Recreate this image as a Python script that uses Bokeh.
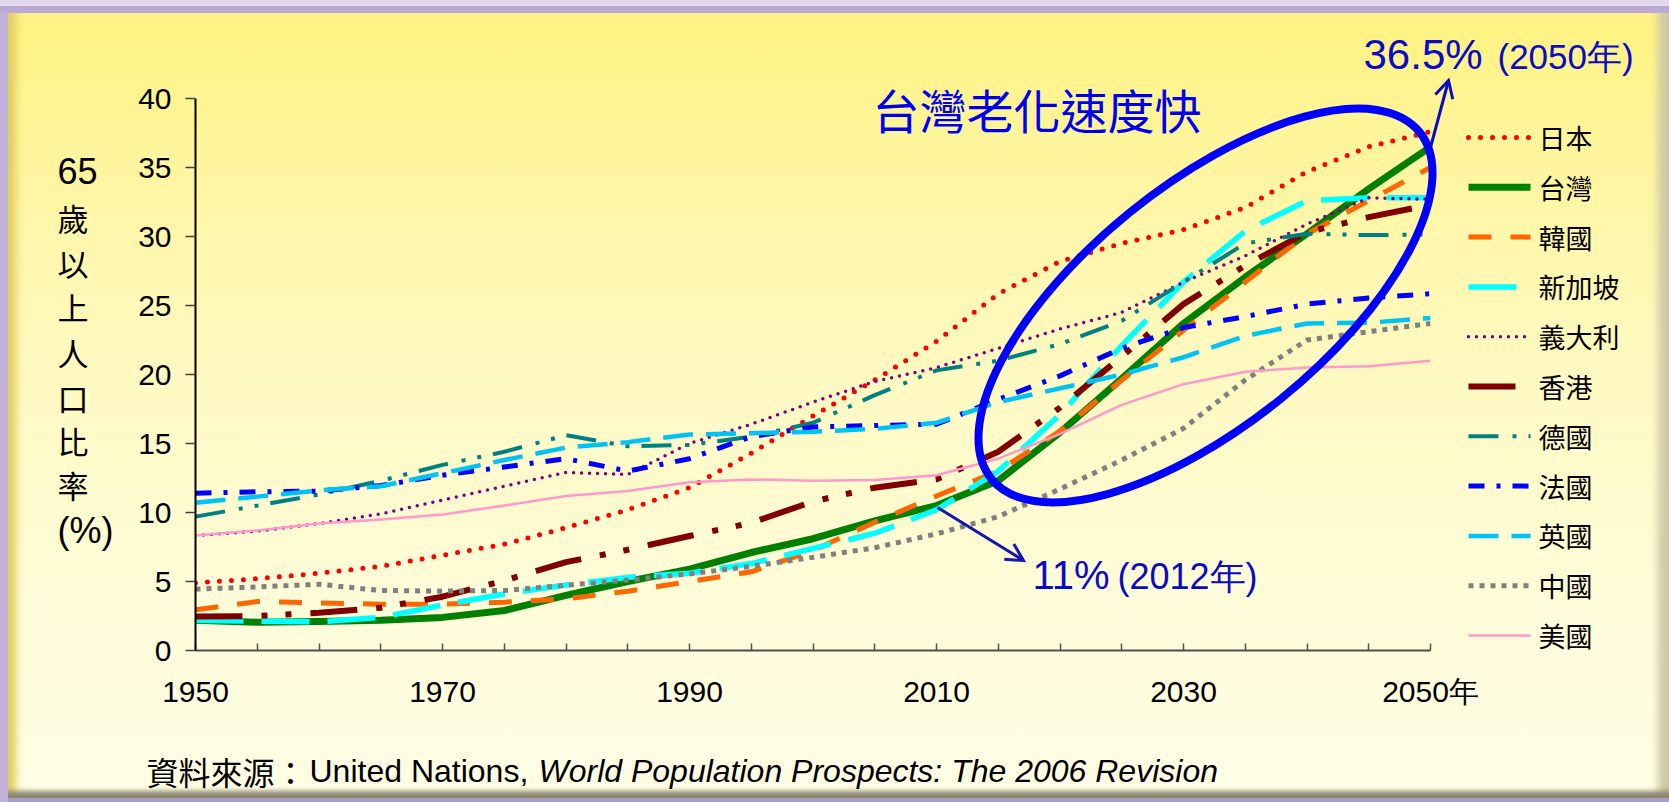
import math
from bokeh.plotting import figure
from bokeh.models import FixedTicker, Range1d
from bokeh.core.properties import value
from bokeh.embed import file_html
from bokeh.resources import INLINE

# ---------------- data ----------------
years = list(range(1950, 2051, 5))
japan     = [4.9, 5.2, 5.6, 6.1, 6.9, 7.7, 8.9, 10.2, 11.8, 14.3, 17.0, 19.6, 22.4, 25.85, 28.2, 29.5, 30.5, 32.1, 34.7, 36.5, 37.6]
taiwan    = [2.2, 2.05, 2.1, 2.2, 2.4, 2.9, 4.0, 5.0, 5.9, 7.1, 8.1, 9.4, 10.5, 12.3, 15.8, 19.7, 23.7, 27.05, 30.2, 33.45, 36.5]
korea     = [2.95, 3.55, 3.45, 3.35, 3.35, 3.5, 3.75, 4.3, 5.0, 5.7, 7.25, 9.3, 11.2, 13.0, 15.9, 19.6, 23.2, 26.7, 30.2, 32.6, 35.0]
singapore = [2.2, 2.13, 2.08, 2.4, 3.3, 4.1, 4.75, 5.3, 5.6, 6.3, 7.4, 8.5, 10.2, 13.0, 17.1, 22.1, 26.7, 30.4, 32.6, 32.8, 32.8]
italy     = [8.33, 8.65, 9.2, 9.9, 10.9, 11.9, 12.9, 12.75, 15.0, 16.4, 18.0, 19.5, 20.5, 21.9, 23.3, 24.5, 26.7, 28.6, 30.9, 32.8, 32.7]
hongkong  = [2.46, 2.5, 2.73, 3.1, 3.9, 5.07, 6.4, 7.3, 8.3, 9.25, 10.8, 11.8, 12.4, 14.4, 17.6, 21.3, 25.1, 27.9, 30.3, 31.4, 32.3]
germany   = [9.7, 10.5, 11.3, 12.3, 13.45, 14.4, 15.6, 14.8, 14.9, 15.5, 16.5, 18.5, 20.3, 21.0, 22.2, 23.9, 26.7, 29.5, 30.2, 30.1, 30.15]
france    = [11.4, 11.5, 11.55, 11.95, 12.7, 13.3, 13.9, 13.0, 13.9, 15.5, 16.2, 16.3, 16.4, 18.2, 19.9, 21.9, 23.4, 24.2, 25.1, 25.55, 25.85]
uk        = [10.7, 11.15, 11.6, 11.9, 12.85, 13.8, 14.7, 15.1, 15.65, 15.75, 15.85, 16.06, 16.5, 18.0, 19.0, 20.0, 21.25, 22.8, 23.7, 23.75, 24.1]
china     = [4.45, 4.6, 4.8, 4.35, 4.3, 4.35, 4.73, 5.1, 5.55, 6.1, 6.75, 7.45, 8.45, 9.7, 11.7, 13.8, 16.1, 19.6, 22.5, 23.1, 23.7]
usa       = [8.33, 8.7, 9.2, 9.5, 9.85, 10.5, 11.2, 11.55, 12.2, 12.4, 12.3, 12.35, 12.7, 13.9, 15.7, 17.8, 19.3, 20.2, 20.5, 20.6, 21.0]

names = ["日本", "台灣", "韓國", "新加坡", "義大利", "香港", "德國", "法國", "英國", "中國", "美國"]
x_tick_values = list(range(1950, 2051, 5))
x_tick_labels = {1950: "1950", 1970: "1970", 1990: "1990", 2010: "2010", 2030: "2030", 2050: "2050年"}
y_tick_values = list(range(0, 41, 5))
y_title_parts = ["65", "歲", "以", "上", "人", "口", "比", "率", "(%)"]

# ---------------- figure ----------------
W, H = 1669, 802
FONT = "Liberation Sans"
CJK = "Noto Sans CJK TC"

bg_styles = {
    "background": "linear-gradient(180deg, #FFF27C 0%, #FFF59C 18%, #FFF9C0 45%, #FFFCD9 75%, #FFFEE6 100%)",
    "box-shadow": ("inset 0 6px 0 0 #E2D9EE, "
                   "inset 0 13px 0 0 #BBA8D4, "
                   "inset 8px 0 0 0 #C2B1DA, "
                   "inset 0 -4px 0 0 #A89EC6, "
                   "inset 0 -15px 5px -4px #8C8770, "
                   "inset -19px 0 8px -8px #CFC8A8, "
                   "inset 24px 0 8px -8px #E2CE60, "
                   "inset 0 32px 10px -10px #FFF08A"),
}

p = figure(width=W, height=H, output_backend="svg", toolbar_location=None,
           x_range=Range1d(1950, 2050), y_range=Range1d(0, 40),
           min_border_left=195, min_border_right=239, min_border_top=98, min_border_bottom=152,
           background_fill_alpha=0, border_fill_alpha=0, outline_line_color=None,
           styles=bg_styles)
p.grid.visible = False

# axes
p.xaxis.ticker = FixedTicker(ticks=x_tick_values)
p.xaxis.major_label_overrides = {t: x_tick_labels.get(t, "") for t in x_tick_values}
p.xaxis.axis_line_color = "#505050"
p.xaxis.axis_line_width = 2
p.xaxis.major_tick_in = 7
p.xaxis.major_tick_out = 0
p.xaxis.major_tick_line_color = "#505050"
p.xaxis.major_tick_line_width = 1.5
p.xaxis.minor_tick_line_color = None
p.xaxis.major_label_standoff = 24
p.xaxis.major_label_text_font = FONT
p.xaxis.major_label_text_font_size = "30px"
p.xaxis.major_label_text_color = "black"

p.yaxis.ticker = FixedTicker(ticks=y_tick_values)
p.yaxis.axis_line_color = "black"
p.yaxis.axis_line_width = 2
p.yaxis.major_tick_in = 0
p.yaxis.major_tick_out = 10
p.yaxis.major_tick_line_color = "#404040"
p.yaxis.major_tick_line_width = 1.5
p.yaxis.minor_tick_line_color = None
p.yaxis.major_label_standoff = 14
p.yaxis.major_label_text_font = FONT
p.yaxis.major_label_text_font_size = "30px"
p.yaxis.major_label_text_color = "black"

# ---------------- helpers (page pixel -> data) ----------------
def dx(px):
    return 1950 + (px - 195) / 12.35

def dy(py):
    return (650 - py) / 13.8

def txt(px, py, s, font, size, color="black", align="left", style="normal"):
    p.text(x=[dx(px)], y=[dy(py)], text=[s], text_font=value(font), text_font_size=value(size),
           text_font_style=style, text_color=color, text_align=align, text_baseline="middle",
           level="overlay")

def arrow(sx0, sy0, sx1, sy1, color, lw, head_len=17, head_half=9):
    p.segment(x0=[dx(sx0)], y0=[dy(sy0)], x1=[dx(sx1)], y1=[dy(sy1)],
              line_color=color, line_width=lw, level="overlay")
    L = math.hypot(sx1 - sx0, sy1 - sy0)
    ux, uy = (sx1 - sx0) / L, (sy1 - sy0) / L
    nx, ny = -uy, ux
    bx, by = sx1 - head_len * ux, sy1 - head_len * uy
    p.line(x=[dx(bx + head_half * nx), dx(sx1), dx(bx - head_half * nx)],
           y=[dy(by + head_half * ny), dy(sy1), dy(by - head_half * ny)],
           line_color=color, line_width=lw, line_join="miter", level="overlay")

# ---------------- series lines + legend ----------------
line_styles = [
    (japan,     "#FF0000", 5,   "0 12",            "round"),
    (taiwan,    "#008000", 7,   "solid",           "butt"),
    (korea,     "#FF6600", 5,   "23 19",           "butt"),
    (singapore, "#00FFFF", 5.5, "48 18",           "butt"),
    (italy,     "#800080", 3.5, "0 8",             "round"),
    (hongkong,  "#800000", 6,   "47 19 6 18 6 19", "butt"),
    (germany,   "#008080", 4,   "30 14 4 12 4 12", "butt"),
    (france,    "#0000FF", 5,   "16 12 4 12",      "butt"),
    (uk,        "#00C3F5", 4.5, "30 13",           "butt"),
    (china,     "#808080", 5,   "5 6",             "butt"),
    (usa,       "#FF99CC", 2.5, "solid",           "butt"),
]
for i, (name, (vals, color, lw, dash, cap)) in enumerate(zip(names, line_styles)):
    p.line(years, vals, line_color=color, line_width=lw, line_dash=dash,
           line_cap=cap, line_join="round")
    cy = 137 + 49.8 * i
    p.line(x=[dx(1468), dx(1530)], y=[dy(cy), dy(cy)], line_color=color, line_width=lw,
           line_dash=dash, line_cap=cap, level="overlay")
    txt(1538, cy, name, CJK, "27px")

# ---------------- annotations ----------------
p.ellipse(x=[dx(1205)], y=[dy(305)], width=551, height=240, angle=math.radians(39),
          width_units="screen", height_units="screen",
          fill_color=None, line_color="#0000FF", line_width=8, level="overlay")

BLUE_T = "#0A0AC8"
txt(872, 108, "台灣老化速度快", CJK, "47px", color="#0000F0")
txt(1363, 54, "36.5%", FONT, "42px", color=BLUE_T)
txt(1497, 56, "(2050年)", FONT, "35px", color=BLUE_T)
txt(1032, 574, "11%", FONT, "40px", color=BLUE_T)
txt(1117, 576, "(2012年)", FONT, "36px", color=BLUE_T)

arrow(1430, 147, 1448, 80, BLUE_T, 3)
arrow(937, 507, 1023, 560, "#1515B0", 3)

y_centers = [170, 217, 262, 306, 352, 397, 440, 484, 530]
for part, cy in zip(y_title_parts, y_centers):
    latin = part[0] in "0123456789("
    txt(57, cy, part, FONT if latin else CJK, "36px" if latin else "31px")

txt(146, 770, "資料來源：", CJK, "32px")
txt(309, 770, "United Nations,", FONT, "32px")
txt(538, 770, "World Population Prospects: The 2006 Revision", FONT, "32px", style="italic")

open("out.html", "w").write(file_html(p, INLINE))
